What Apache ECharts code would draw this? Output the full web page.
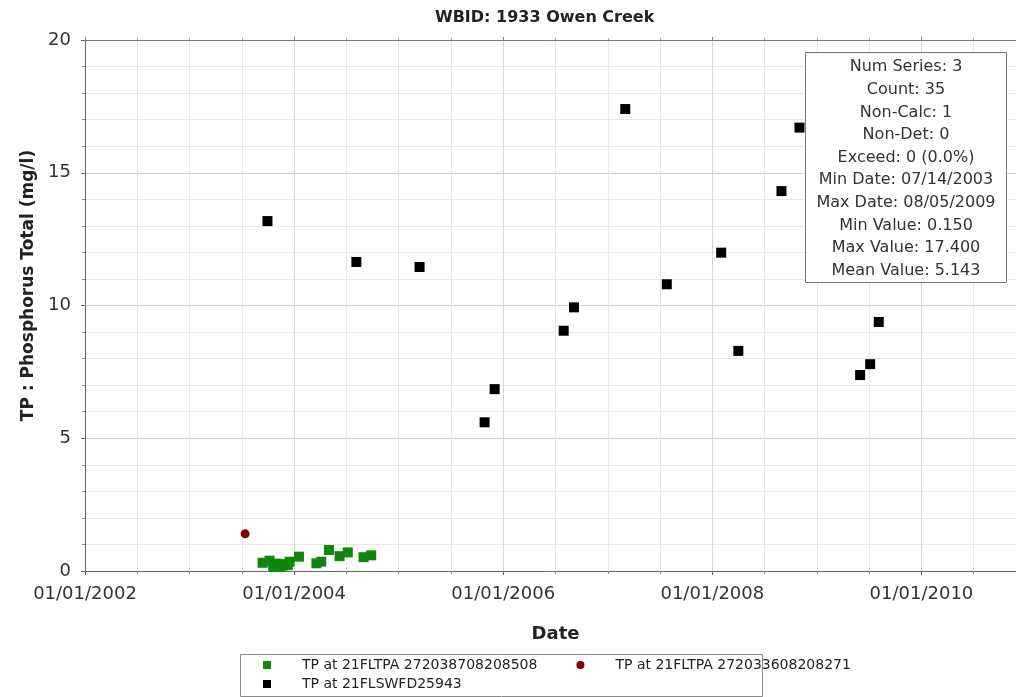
<!DOCTYPE html>
<html>
<head>
<meta charset="utf-8">
<script src="https://cdn.jsdelivr.net/npm/echarts@6/dist/echarts.min.js"></script>
<style>
html,body{margin:0;padding:0;background:#fff;}
#chart{width:1016px;height:697px;}
</style>
</head>
<body>
<div id="chart"></div>
<script>
// ---- data ----
const titleText = 'WBID: 1933 Owen Creek';
const seriesNames = ['TP at 21FLTPA 272038708208508', 'TP at 21FLTPA 272033608208271', 'TP at 21FLSWFD25943'];

const greenDates = ['2003-09-13','2003-10-07','2003-10-20','2003-10-25','2003-11-01','2003-11-11','2003-11-20','2003-12-05','2003-12-10','2003-12-16',
                    '2004-01-18','2004-03-19','2004-04-05','2004-05-02','2004-06-08','2004-07-07','2004-08-31','2004-09-27'];
const greenValues = [0.31, 0.39, 0.15, 0.23, 0.28, 0.16, 0.20, 0.26, 0.22, 0.35,
                     0.54, 0.29, 0.35, 0.79, 0.56, 0.70, 0.52, 0.59];

const redDates = ['2003-07-14'];
const redValues = [1.40];

const blackDates = ['2003-09-30','2004-08-06','2005-03-15','2005-10-28','2005-12-02','2006-07-31','2006-09-05','2007-03-03',
                    '2007-07-26','2008-02-01','2008-04-01','2008-08-30','2008-11-01','2009-06-01','2009-07-06','2009-08-05'];
const blackValues = [13.18, 11.64, 11.45, 5.60, 6.85, 9.05, 9.93, 17.40,
                     10.80, 11.99, 8.29, 14.31, 16.70, 7.38, 7.79, 9.38];

const xTickYears = [2002, 2004, 2006, 2008, 2010];
const yTicks = [0, 5, 10, 15, 20];

const statsLines = ['Num Series: 3','Count: 35','Non-Calc: 1','Non-Det: 0','Exceed: 0 (0.0%)',
                    'Min Date: 07/14/2003','Max Date: 08/05/2009','Min Value: 0.150','Max Value: 17.400','Mean Value: 5.143'];

// ---- helpers ----
function toYear(s){
  const [y,m,d] = s.split('-').map(Number);
  const t = Date.UTC(y, m-1, d), a = Date.UTC(y,0,1), b = Date.UTC(y+1,0,1);
  return y + (t - a) / (b - a);
}
function pairs(dates, vals){ return dates.map((d,i)=>[toYear(d), vals[i]]); }

const FONT = '"DejaVu Sans", Tahoma, sans-serif';
const chart = echarts.init(document.getElementById('chart'), null, {renderer:'canvas'});

const xCommon = {
  type:'value', min: xTickYears[0], max: 2011, interval: 2
};

chart.setOption({
  backgroundColor:'#ffffff',
  animation:false,
  title:{
    text:titleText, left:430, top:5,
    textStyle:{fontFamily:FONT, fontSize:16, fontWeight:'bold', color:'#222'}
  },
  grid:{left:85, top:40, width:941, height:531, containLabel:false, outerBoundsMode:'none'},
  xAxis:[
    Object.assign({}, xCommon, {
      position:'bottom',
      axisLine:{show:true, lineStyle:{color:'#666', width:1}},
      axisTick:{show:true, length:4, lineStyle:{color:'#666'}},
      minorTick:{show:true, splitNumber:4, length:3, lineStyle:{color:'#888'}},
      splitLine:{show:true, lineStyle:{color:'#d6d6d6'}},
      minorSplitLine:{show:true, lineStyle:{color:'#e8e8e8'}},
      axisLabel:{
        fontFamily:FONT, fontSize:18, color:'#333', margin:14,
        showMaxLabel:false,
        formatter:v => xTickYears.indexOf(v) >= 0 ? '01/01/' + v : ''
      },
      name:'Date', nameLocation:'middle', nameGap:54,
      nameTextStyle:{fontFamily:FONT, fontSize:18, fontWeight:'bold', color:'#222'}
    }),
    Object.assign({}, xCommon, {
      position:'top',
      axisLine:{show:true, lineStyle:{color:'#777', width:1}},
      axisTick:{show:true, length:3, lineStyle:{color:'#888'}},
      minorTick:{show:true, splitNumber:4, length:2, lineStyle:{color:'#aaa'}},
      splitLine:{show:false},
      axisLabel:{show:false}
    })
  ],
  yAxis:{
    type:'value', min:yTicks[0], max:yTicks[yTicks.length-1], interval:5,
    axisLine:{show:true, lineStyle:{color:'#666', width:1}},
    axisTick:{show:true, length:4, lineStyle:{color:'#666'}},
    minorTick:{show:true, splitNumber:5, length:3, lineStyle:{color:'#888'}},
    splitLine:{show:true, lineStyle:{color:'#cfcfcf'}},
    minorSplitLine:{show:true, lineStyle:{color:'#e8e8e8'}},
    axisLabel:{fontFamily:FONT, fontSize:18, color:'#333', margin:14},
    name:'TP : Phosphorus Total (mg/l)', nameLocation:'middle', nameGap:46,
    nameTextStyle:{fontFamily:FONT, fontSize:17, fontWeight:'bold', color:'#222', padding:[0,0,0,40]}
  },
  legend:[
    {
      left:258, top:653, orient:'horizontal', itemGap:39,
      itemWidth:8, itemHeight:8,
      textStyle:{fontFamily:FONT, fontSize:14, color:'#222', padding:[0,0,0,26]},
      data:[{name:seriesNames[0], icon:'rect'}, {name:seriesNames[1], icon:'circle'}]
    },
    {
      left:258, top:672, orient:'horizontal',
      itemWidth:8, itemHeight:8,
      textStyle:{fontFamily:FONT, fontSize:14, color:'#222', padding:[0,0,0,26]},
      data:[{name:seriesNames[2], icon:'rect'}]
    }
  ],
  graphic:[
    {type:'rect', z:0, shape:{x:240.5, y:654.5, width:522, height:42}, style:{fill:'none', stroke:'#8a8a8a', lineWidth:1}},
    {type:'rect', z:100, shape:{x:805.5, y:52.5, width:201, height:230}, style:{fill:'#ffffff', stroke:'#777', lineWidth:1}},
    {type:'text', z:101, x:906, y:56, style:{
        text:statsLines.join('\n'), align:'center', verticalAlign:'top',
        font:'16px ' + FONT, lineHeight:22.6, fill:'#333'
    }}
  ],
  series:[
    {name:seriesNames[0], type:'scatter', symbol:'rect', symbolSize:10,
     itemStyle:{color:'#0f870f', opacity:1}, data:pairs(greenDates, greenValues)},
    {name:seriesNames[1], type:'scatter', symbol:'circle', symbolSize:9,
     itemStyle:{color:'#800000', opacity:1}, data:pairs(redDates, redValues)},
    {name:seriesNames[2], type:'scatter', symbol:'rect', symbolSize:10,
     itemStyle:{color:'#000000', opacity:1}, data:pairs(blackDates, blackValues)}
  ]
});
</script>
</body>
</html>
